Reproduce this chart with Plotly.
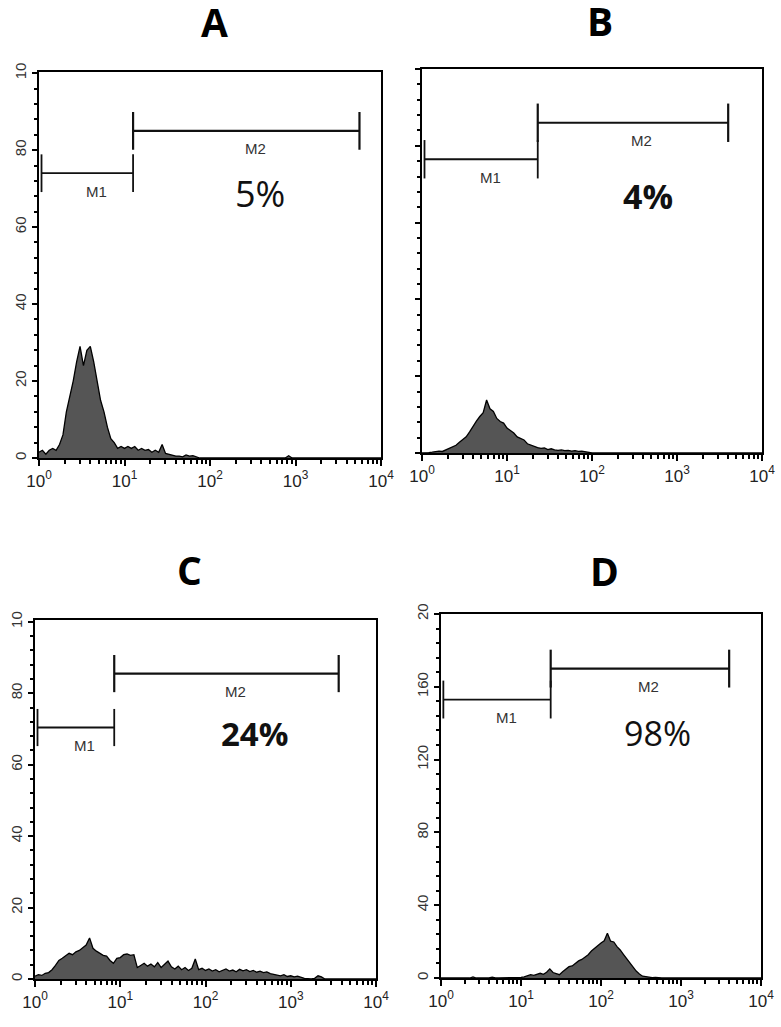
import math
import plotly.graph_objects as go

# ---------------- data ----------------
# histogram bin positions (log10 of fluorescence channel)
LOG_BINS = [0.00, 0.04, 0.08, 0.12, 0.16, 0.20, 0.24, 0.28, 0.32, 0.36,
            0.40, 0.44, 0.48, 0.52, 0.56, 0.60, 0.64, 0.68, 0.72, 0.76,
            0.80, 0.84, 0.88, 0.92, 0.96, 1.00, 1.04, 1.08, 1.12, 1.16,
            1.20, 1.24, 1.28, 1.32, 1.36, 1.40, 1.44, 1.48, 1.52, 1.56,
            1.60, 1.64, 1.68, 1.72, 1.76, 1.80, 1.84, 1.88, 1.92, 1.96,
            2.00, 2.04, 2.08, 2.12, 2.16, 2.20, 2.24, 2.28, 2.32, 2.36,
            2.40, 2.44, 2.48, 2.52, 2.56, 2.60, 2.64, 2.68, 2.72, 2.76,
            2.80, 2.84, 2.88, 2.92, 2.96, 3.00, 3.04, 3.08, 3.12, 3.16,
            3.20, 3.24, 3.28, 3.32, 3.36, 3.40, 3.44, 3.48, 3.52, 3.56,
            3.60, 3.64, 3.68, 3.72, 3.76, 3.80, 3.84, 3.88, 3.92, 3.96,
            4.00]

COUNTS_A = [1.5, 2.0, 1.0, 2.0, 2.5, 2.0, 3.5, 6.0, 12.0, 16.0,
            20.0, 25.0, 29.0, 24.0, 28.0, 29.0, 25.0, 20.0, 15.0, 12.0,
            8.0, 5.0, 4.0, 2.5, 3.0, 2.5, 3.0, 2.5, 3.0, 2.0,
            2.5, 2.0, 2.2, 1.5, 2.0, 1.5, 3.5, 1.2, 1.0, 0.8,
            0.5, 0.5, 0.3, 0.8, 0.5, 0.6, 0.2, 0, 0, 0,
            0, 0, 0, 0, 0, 0, 0, 0, 0, 0,
            0, 0, 0, 0, 0, 0, 0, 0, 0, 0,
            0, 0, 0, 0.6, 0, 0, 0, 0, 0, 0,
            0, 0, 0, 0, 0, 0, 0, 0, 0, 0,
            0, 0, 0, 0, 0, 0, 0, 0, 0, 0,
            0]

COUNTS_B = [0, 0, 0.1, 0.2, 0.4, 0.5, 0.4, 0.8, 1.0, 1.5,
            2.0, 2.8, 3.5, 4.2, 5.5, 7.0, 8.3, 9.5, 10.5, 13.8,
            11.5, 10.8, 9.0, 8.2, 7.8, 6.5, 5.8, 5.2, 4.2, 3.8,
            3.4, 2.4, 2.0, 1.6, 1.4, 1.2, 1.3, 0.9, 1.1, 0.8,
            0.7, 0.8, 0.6, 0.7, 0.5, 0.6, 0.4, 0.5, 0.3, 0.1,
            0, 0, 0, 0, 0, 0, 0, 0, 0, 0,
            0, 0, 0, 0, 0, 0, 0, 0, 0, 0,
            0, 0, 0, 0, 0, 0, 0, 0, 0, 0,
            0, 0, 0, 0, 0, 0, 0, 0, 0, 0,
            0, 0, 0, 0, 0, 0, 0, 0, 0, 0,
            0]

COUNTS_C = [0.8, 1.2, 1.0, 1.6, 1.8, 2.6, 3.8, 5.2, 5.8, 6.5,
            7.2, 6.8, 7.6, 8.0, 8.8, 9.5, 11.5, 8.6, 7.8, 7.2,
            6.6, 6.4, 5.2, 4.4, 5.8, 6.0, 6.8, 7.0, 6.6, 6.8,
            3.2, 3.8, 4.4, 3.6, 4.2, 3.4, 4.6, 3.2, 4.0, 5.0,
            3.4, 2.8, 3.6, 2.6, 3.2, 2.4, 3.0, 5.6, 2.6, 3.0,
            2.4, 2.8, 2.2, 2.6, 2.0, 2.4, 2.8, 2.2, 2.5, 2.0,
            2.7, 2.3, 2.6, 2.1, 2.4, 1.9, 2.2, 1.8, 2.0, 1.5,
            1.3, 1.1, 0.9, 1.2, 0.7, 0.9, 0.6, 0.8, 0.4, 0.2,
            0.1, 0, 0.2, 0.9, 0.6, 0, 0, 0, 0, 0,
            0, 0, 0, 0, 0, 0, 0, 0, 0, 0,
            0]

COUNTS_D = [0, 0, 0, 0, 0, 0, 0, 0, 0, 0,
            0.6, 0, 0, 0, 0, 0, 0.5, 0, 0, 0,
            0, 0, 0.4, 0, 0, 0.3, 0.6, 1.2, 1.8, 1.4,
            2.2, 2.6, 2.0, 3.2, 5.0, 3.0, 2.4, 1.8, 3.4, 4.6,
            6.2, 6.6, 8.0, 9.4, 10.2, 11.6, 12.8, 14.8, 16.4, 17.6,
            19.2, 20.4, 24.6, 20.2, 19.8, 17.2, 15.4, 13.0, 10.6, 8.4,
            5.8, 3.8, 2.2, 1.0, 0.8, 0.4, 0.2, 0.3, 0, 0,
            0, 0, 0, 0, 0, 0, 0, 0, 0, 0,
            0, 0, 0, 0, 0, 0, 0, 0, 0, 0,
            0, 0, 0, 0, 0, 0, 0, 0, 0, 0,
            0]

# marker gates: [start, end, height]
GATE_M1 = {"A": [1.07, 12.6, 74.0], "B": [1.07, 23.0, 76.5],
           "C": [1.07, 8.5, 70.4], "D": [1.07, 23.5, 153.0]}
GATE_M2 = {"A": [12.6, 5600, 85.0], "B": [23.0, 4000, 86.0],
           "C": [8.5, 3650, 85.5], "D": [23.5, 4000, 170.0]}

PANELS = ["A", "B", "C", "D"]
PERCENTS = ["5%", "4%", "24%", "98%"]

X_MAJOR = [1, 10, 100, 1000, 10000]
X_LABELS = ["10<sup>0</sup>", "10<sup>1</sup>", "10<sup>2</sup>",
            "10<sup>3</sup>", "10<sup>4</sup>"]
X_MINOR = [2, 3, 4, 5, 6, 7, 8, 9,
           20, 30, 40, 50, 60, 70, 80, 90,
           200, 300, 400, 500, 600, 700, 800, 900,
           2000, 3000, 4000, 5000, 6000, 7000, 8000, 9000]

Y_TICKS_100 = [0, 20, 40, 60, 80, 100]
Y_LABELS_100 = ["0", "20", "40", "60", "80", "10"]
Y_TICKS_200 = [0, 40, 80, 120, 160, 200]
Y_LABELS_200 = ["0", "40", "80", "120", "160", "20"]

COUNTS = {"A": COUNTS_A, "B": COUNTS_B, "C": COUNTS_C, "D": COUNTS_D}

# ---------------- layout geometry ----------------
W, H = 781, 1027


def px(x, y):
    return x / W, 1 - y / H


# pixel boxes: left, right, bottom(y=0), top
BOX = {"A": (39, 381, 458, 72), "B": (422, 762, 453, 69),
       "C": (35, 376, 979, 620), "D": (441, 761, 978, 614)}
YRANGE = {"A": [0, 100.3], "B": [0, 100], "C": [0, 100.5], "D": [0, 200]}
TICK_HALF = {"A": 4.9, "B": 5.0, "C": 5.2, "D": 10.4}

TICK_FONT = "Liberation Sans Narrow, Arial Narrow, Liberation Sans, Arial"
PCT_FONT = "Open Sans, Lato, sans-serif"

fig = go.Figure()
layout = {}
annotations = []

for i, p in enumerate(PANELS):
    n = "" if i == 0 else str(i + 1)
    xa, ya = "x" + n, "y" + n
    l, r, b, t = BOX[p]
    x0, y0 = px(l, b)
    x1, y1 = px(r, t)

    xs = [10 ** v for v in LOG_BINS]
    fig.add_trace(go.Scatter(
        x=xs, y=COUNTS[p], xaxis=xa, yaxis=ya, mode="lines",
        line=dict(color="black", width=1.3), fill="tozeroy",
        fillcolor="#555555", showlegend=False, hoverinfo="skip"))

    # gates M1 and M2
    h = TICK_HALF[p]
    for gate, lw in ((GATE_M1[p], 1.8), (GATE_M2[p], 2.2)):
        gs, ge, gy = gate
        fig.add_trace(go.Scatter(
            x=[gs, ge, None, gs, gs, None, ge, ge],
            y=[gy, gy, None, gy - h, gy + h, None, gy - h, gy + h],
            xaxis=xa, yaxis=ya, mode="lines",
            line=dict(color="#111111", width=lw),
            showlegend=False, hoverinfo="skip"))
    for name, gate in (("M1", GATE_M1[p]), ("M2", GATE_M2[p])):
        gs, ge, gy = gate
        mid = (math.log10(gs) + math.log10(ge)) / 2
        annotations.append(dict(
            x=mid, y=gy, xref=xa, yref=ya, text=name, showarrow=False,
            xshift=9, yshift=-18,
            font=dict(family=TICK_FONT, size=15, color="#333333")))

    yt = Y_TICKS_200 if p == "D" else Y_TICKS_100
    ytl = Y_LABELS_200 if p == "D" else Y_LABELS_100
    minor_dy = 8 if p == "D" else 4

    layout["xaxis" + n] = dict(
        type="log", range=[0, 4], domain=[x0, x1], anchor=ya,
        automargin=False,
        showline=True, linecolor="black", linewidth=2.2, mirror=True,
        ticks="outside", ticklen=6, tickwidth=1.6, tickcolor="black",
        tickmode="array", tickvals=X_MAJOR, ticktext=X_LABELS,
        tickfont=dict(family=TICK_FONT, size=17, color="#222222"),
        minor=dict(tickmode="array", tickvals=X_MINOR, ticks="outside",
                   ticklen=4, tickwidth=1.6, tickcolor="black"),
        showgrid=False, zeroline=False, fixedrange=True)
    layout["yaxis" + n] = dict(
        range=YRANGE[p], domain=[y0, y1], anchor=xa,
        automargin=False,
        showline=True, linecolor="black", linewidth=2, mirror=True,
        ticks="outside", ticklen=5, tickwidth=1.6, tickcolor="black",
        tickmode="array", tickvals=yt, ticktext=ytl, tickangle=-90,
        showticklabels=(p != "B"),
        tickfont=dict(family=TICK_FONT, size=15, color="#333333"),
        minor=dict(dtick=minor_dy, tick0=0, ticks="outside", ticklen=3,
                   tickwidth=1.6, tickcolor="black"),
        showgrid=False, zeroline=False, fixedrange=True)

# panel titles
TITLE_POS = {"A": (215, 22), "B": (600, 21), "C": (189, 569), "D": (604, 570)}
for p in PANELS:
    x, y = px(*TITLE_POS[p])
    annotations.append(dict(
        x=x, y=y, xref="paper", yref="paper", text="<b>%s</b>" % p,
        showarrow=False, xanchor="center", yanchor="middle",
        font=dict(family=PCT_FONT, size=39, color="black")))

# percentage labels
PCT_POS = {"A": (260, 193), "B": (648, 196), "C": (254, 733), "D": (657, 733)}
PCT_STYLE = {"A": (36, False), "B": (34, True), "C": (33, True), "D": (34, False)}
for p, txt in zip(PANELS, PERCENTS):
    x, y = px(*PCT_POS[p])
    size, bold = PCT_STYLE[p]
    annotations.append(dict(
        x=x, y=y, xref="paper", yref="paper",
        text=("<b>%s</b>" % txt) if bold else txt,
        showarrow=False, xanchor="center", yanchor="middle",
        font=dict(family=PCT_FONT, size=size, color="#111111")))

fig.update_layout(
    width=W, height=H, margin=dict(l=0, r=0, t=0, b=0, autoexpand=False),
    paper_bgcolor="white", plot_bgcolor="white",
    annotations=annotations, showlegend=False, **layout)

fig.write_html(
    "out.html",
    config={"displayModeBar": False},
    post_script="document.body.style.margin='0px';"
                "document.body.style.overflow='hidden';")
